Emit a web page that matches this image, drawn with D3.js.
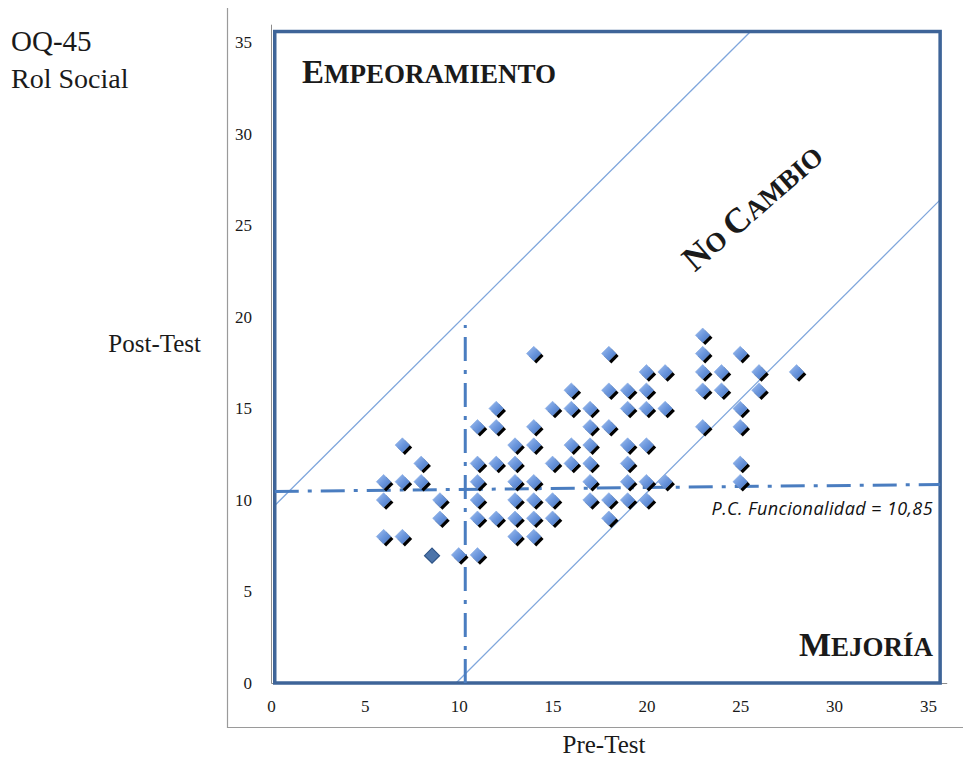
<!DOCTYPE html>
<html>
<head>
<meta charset="utf-8">
<script src="https://cdn.jsdelivr.net/npm/d3@7"></script>
<style>
  body { margin: 0; background: #fff; }
  svg { display: block; }
  .serif { font-family: "Liberation Serif", "Times New Roman", serif; fill: #1a1a1a; }
</style>
</head>
<body>
<script>
// pre-test / post-test scores, one entry per patient
var preTest = [6, 6, 6, 7, 7, 7, 8, 8, 9, 9, 10,
  11, 11, 11, 11, 11, 11, 12, 12, 12, 12,
  13, 13, 13, 13, 13, 13, 14, 14, 14, 14, 14, 14, 14,
  15, 15, 15, 15, 16, 16, 16, 16,
  17, 17, 17, 17, 17, 17, 18, 18, 18, 18, 18,
  19, 19, 19, 19, 19, 19, 20, 20, 20, 20, 20, 20,
  21, 21, 21, 23, 23, 23, 23, 23, 24, 24,
  25, 25, 25, 25, 25, 26, 26, 28];
var postTest = [11, 10, 8, 13, 11, 8, 12, 11, 10, 9, 7,
  14, 12, 11, 10, 9, 7, 15, 14, 12, 9,
  13, 12, 11, 10, 9, 8, 18, 14, 13, 11, 10, 9, 8,
  15, 12, 10, 9, 16, 15, 13, 12,
  15, 14, 13, 12, 11, 10, 18, 16, 14, 10, 9,
  16, 15, 13, 12, 11, 10, 17, 16, 15, 13, 11, 10,
  17, 15, 11, 19, 18, 17, 16, 14, 17, 16,
  18, 15, 14, 12, 11, 17, 16, 17];

// darker single marker
var centroid = [[8.58, 6.96]];

var xTicks = [0, 5, 10, 15, 20, 25, 30, 35];
var yTicks = [0, 5, 10, 15, 20, 25, 30, 35];

// reliable change band and cut-off lines (data units)
var upperBand = [[0.2, 9.7], [25.55, 35.6]];
var lowerBand = [[9.86, 0], [35.65, 26.4]];
var cutoffPost = [[0.2, 10.47], [35.65, 10.85]];
var cutoffPre = [[10.35, 0], [10.35, 19.56]];

var width = 963, height = 762;

var svg = d3.select('body').append('svg')
  .attr('width', width)
  .attr('height', height);

var x = d3.scaleLinear().domain([0, 36]).range([271, 946.7]);
var y = d3.scaleLinear().domain([0, 36]).range([683, 24.2]);

var defs = svg.append('defs');
var grad = defs.append('linearGradient')
  .attr('id', 'markerFill')
  .attr('x1', '0%').attr('y1', '0%')
  .attr('x2', '100%').attr('y2', '100%');
grad.append('stop').attr('offset', '0%').attr('stop-color', '#a3c1f0');
grad.append('stop').attr('offset', '50%').attr('stop-color', '#6c97dd');
grad.append('stop').attr('offset', '100%').attr('stop-color', '#4473c2');

// outer chart border (left + bottom only)
svg.append('path')
  .attr('d', 'M227.5,8V727.5H963')
  .attr('fill', 'none')
  .attr('stroke', '#9a9a9a')
  .attr('stroke-width', 1.2);

// axes
var xAxis = d3.axisBottom(x).tickValues(xTicks).tickSize(0).tickSizeOuter(0).tickPadding(17);
var yAxis = d3.axisLeft(y).tickValues(yTicks).tickSize(0).tickSizeOuter(0).tickPadding(19);

var gx = svg.append('g').attr('transform', 'translate(0,' + y(0) + ')').call(xAxis);
var gy = svg.append('g').attr('transform', 'translate(' + x(0) + ',0)').call(yAxis);

[gx, gy].forEach(function(g) {
  g.attr('font-family', null).attr('font-size', null);
  g.select('.domain').attr('stroke', '#8c8c8c').attr('stroke-width', 1);
  g.selectAll('text')
    .style('font-family', '"Liberation Serif", "Times New Roman", serif')
    .style('font-size', '17px')
    .attr('fill', '#1a1a1a');
});

var line = d3.line()
  .x(function(d) { return x(d[0]); })
  .y(function(d) { return y(d[1]); });

// diagonal band lines
svg.selectAll('.band')
  .data([upperBand, lowerBand])
  .enter().append('path')
    .attr('class', 'band')
    .attr('d', line)
    .attr('fill', 'none')
    .attr('stroke', '#7fa6dc')
    .attr('stroke-width', 1.3);

// frame
svg.append('rect')
  .attr('x', x(0.2))
  .attr('y', y(35.6))
  .attr('width', x(35.65) - x(0.2))
  .attr('height', y(0) - y(35.6))
  .attr('fill', 'none')
  .attr('stroke', '#3e6498')
  .attr('stroke-width', 3.5);

// cut-off dash-dot lines
svg.selectAll('.cut')
  .data([cutoffPost, cutoffPre])
  .enter().append('path')
    .attr('class', 'cut')
    .attr('d', line)
    .attr('fill', 'none')
    .attr('stroke', '#4a7dc0')
    .attr('stroke-width', 3)
    .attr('stroke-dasharray', '24,9,4,9');

// markers
var diamond = 'M0,-7.3L7.3,0L0,7.3L-7.3,0Z';
var points = preTest.map(function(v, i) { return [v, postTest[i]]; });

var marks = svg.append('g');
marks.selectAll('.shadow')
  .data(points)
  .enter().append('path')
    .attr('class', 'shadow')
    .attr('d', diamond)
    .attr('transform', function(d) { return 'translate(' + (x(d[0]) + 2.5) + ',' + (y(d[1]) + 2.5) + ')'; })
    .attr('fill', '#000');
marks.selectAll('.dot')
  .data(points)
  .enter().append('path')
    .attr('class', 'dot')
    .attr('d', diamond)
    .attr('transform', function(d) { return 'translate(' + x(d[0]) + ',' + y(d[1]) + ')'; })
    .attr('fill', 'url(#markerFill)')
    .attr('stroke', '#84a9e3')
    .attr('stroke-width', 0.6);

marks.selectAll('.centroid')
  .data(centroid)
  .enter().append('path')
    .attr('class', 'centroid')
    .attr('d', 'M0,-7.5L7.5,0L0,7.5L-7.5,0Z')
    .attr('transform', function(d) { return 'translate(' + x(d[0]) + ',' + y(d[1]) + ')'; })
    .attr('fill', '#4c74aa')
    .attr('stroke', '#2e5386')
    .attr('stroke-width', 1.2);

// titles
svg.append('text').attr('class', 'serif').attr('x', 11).attr('y', 51)
  .style('font-size', '29px').attr('fill', '#222').text('OQ-45');
svg.append('text').attr('class', 'serif').attr('x', 11).attr('y', 88)
  .style('font-size', '28px').attr('fill', '#222').text('Rol Social');

svg.append('text').attr('class', 'serif').attr('x', 201).attr('y', 352)
  .attr('text-anchor', 'end').style('font-size', '25px').text('Post-Test');
svg.append('text').attr('class', 'serif').attr('x', 604).attr('y', 753)
  .attr('text-anchor', 'middle').style('font-size', '25px').text('Pre-Test');

// region labels in small caps
function smallCaps(sel, parts) {
  parts.forEach(function(p) {
    sel.append('tspan').style('font-size', p[1] + 'px').text(p[0]);
  });
}

var emp = svg.append('text').attr('class', 'serif')
  .attr('x', 302).attr('y', 83)
  .style('font-weight', 'bold');
smallCaps(emp, [['E', 33], ['MPEORAMIENTO', 27]]);

var mej = svg.append('text').attr('class', 'serif')
  .attr('x', 933).attr('y', 656)
  .attr('text-anchor', 'end')
  .style('font-weight', 'bold');
smallCaps(mej, [['M', 34], ['EJORÍA', 27]]);

var noc = svg.append('text').attr('class', 'serif')
  .attr('text-anchor', 'middle')
  .attr('transform', 'translate(760,216) rotate(-41)')
  .style('font-weight', 'bold');
smallCaps(noc, [['N', 35], ['O ', 27], ['C', 35], ['AMBIO', 27]]);

svg.append('text')
  .attr('x', 933).attr('y', 515)
  .attr('text-anchor', 'end')
  .style('font-family', '"Open Sans", sans-serif')
  .style('font-style', 'italic')
  .style('font-size', '18px')
  .style('letter-spacing', '0.4px')
  .attr('fill', '#111')
  .text('P.C.  Funcionalidad = 10,85');
</script>
</body>
</html>
